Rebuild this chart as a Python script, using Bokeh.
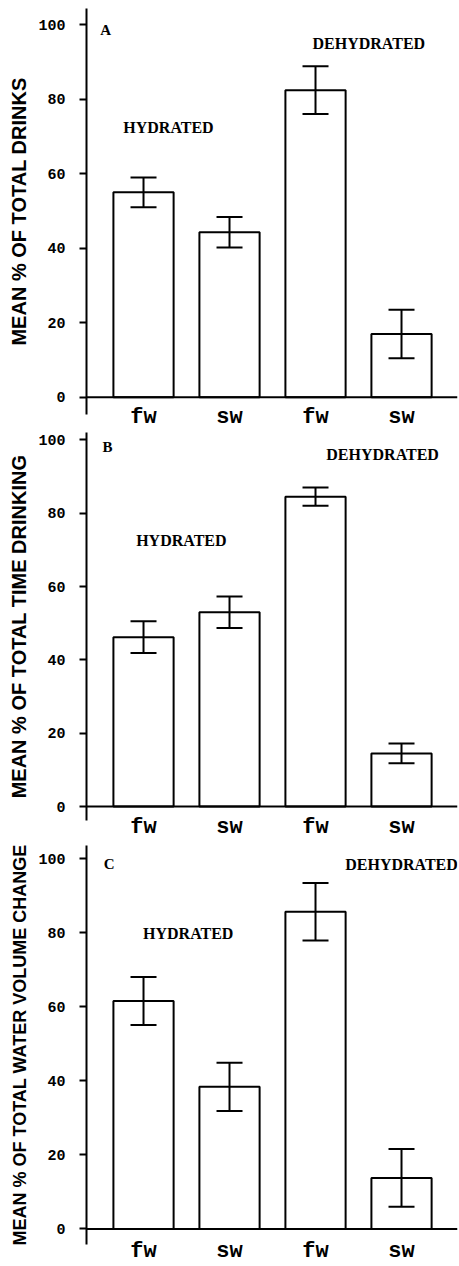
from bokeh.plotting import figure
from bokeh.layouts import column
from bokeh.models import ColumnDataSource, Whisker, TeeHead, Span, Label, FixedTicker, Range1d
from bokeh.embed import file_html
from bokeh.resources import INLINE

# ---- data ----
x_pos = [1, 2, 3, 4]
x_labels = ["fw", "sw", "fw", "sw"]
y_ticks = [0, 20, 40, 60, 80, 100]

drinks_mean = [55.0, 44.3, 82.4, 17.0]
drinks_err = [4.0, 4.1, 6.4, 6.5]

time_mean = [46.2, 53.0, 84.5, 14.5]
time_err = [4.3, 4.3, 2.5, 2.7]

volume_mean = [61.6, 38.4, 85.7, 13.8]
volume_err = [6.5, 6.5, 7.8, 7.8]

panels = [
    dict(letter="A", ylabel="MEAN % OF TOTAL DRINKS", mean=drinks_mean, err=drinks_err,
         height=432, top=8, bottom=18, yr=(-4.6, 104.3), standoff=-10, lab_size="20px",
         letter_pos=(0.56, 98.4), hyd_pos=(1.29, 72.4), dehyd_pos=(3.62, 95.0)),
    dict(letter="B", ylabel="MEAN % OF TOTAL TIME DRINKING", mean=time_mean, err=time_err,
         height=410, top=0, bottom=22, yr=(-3.8, 102.0), standoff=-6, lab_size="20px",
         letter_pos=(0.58, 98.0), hyd_pos=(1.44, 72.5), dehyd_pos=(3.78, 96.0)),
    dict(letter="C", ylabel="MEAN % OF TOTAL WATER VOLUME CHANGE", mean=volume_mean, err=volume_err,
         height=424, top=3, bottom=22, yr=(-4.2, 103.6), standoff=-6, lab_size="18px",
         letter_pos=(0.6, 98.7), hyd_pos=(1.52, 79.8), dehyd_pos=(4.0, 98.5)),
]

figs = []
for pn in panels:
    p = figure(width=459, height=pn["height"], output_backend="svg", toolbar_location=None,
               x_range=Range1d(0.337, 4.651), y_range=Range1d(*pn["yr"]),
               min_border_left=86, min_border_right=2,
               min_border_top=pn["top"], min_border_bottom=pn["bottom"])
    p.outline_line_color = None
    p.grid.visible = False
    p.background_fill_color = "white"
    p.border_fill_color = "white"

    src = ColumnDataSource(dict(
        x=x_pos, top=pn["mean"],
        upper=[m + e for m, e in zip(pn["mean"], pn["err"])],
        lower=[m - e for m, e in zip(pn["mean"], pn["err"])],
    ))
    p.vbar(x="x", top="top", bottom=0, width=0.70, source=src,
           fill_color="white", line_color="black", line_width=2)
    w = Whisker(source=src, base="x", upper="upper", lower="lower",
                line_color="black", line_width=2, level="overlay",
                upper_head=TeeHead(size=26, line_color="black", line_width=2),
                lower_head=TeeHead(size=26, line_color="black", line_width=2))
    p.add_layout(w)
    p.add_layout(Span(location=0, dimension="width", line_color="black", line_width=2))

    # y axis
    ya = p.yaxis[0]
    ya.ticker = FixedTicker(ticks=y_ticks)
    ya.minor_tick_line_color = None
    ya.major_tick_in = 0
    ya.major_tick_out = 7
    ya.major_tick_line_width = 2
    ya.axis_line_width = 2
    ya.major_label_standoff = 14
    ya.major_label_text_font = "Liberation Mono"
    ya.major_label_text_font_style = "bold"
    ya.major_label_text_font_size = "15px"
    ya.major_label_text_color = "black"
    ya.axis_label = pn["ylabel"]
    ya.axis_label_text_font = "Liberation Sans"
    ya.axis_label_text_font_style = "bold"
    ya.axis_label_text_font_size = pn["lab_size"]
    ya.axis_label_text_color = "black"
    ya.axis_label_standoff = 5

    # x axis
    xa = p.xaxis[0]
    xa.ticker = FixedTicker(ticks=x_pos)
    xa.major_label_overrides = {xv: lab for xv, lab in zip(x_pos, x_labels)}
    xa.axis_line_color = None
    xa.major_tick_line_color = None
    xa.minor_tick_line_color = None
    xa.major_tick_out = 0
    xa.major_tick_in = 0
    xa.major_label_standoff = pn["standoff"]
    xa.major_label_text_font = "Liberation Mono"
    xa.major_label_text_font_style = "bold"
    xa.major_label_text_font_size = "22px"
    xa.major_label_text_color = "black"

    lx, ly = pn["letter_pos"]
    p.add_layout(Label(x=lx, y=ly, text=pn["letter"], text_align="center", text_baseline="middle",
                       text_color="black",
                       text_font="Liberation Serif", text_font_style="bold", text_font_size="15px"))
    hx, hy = pn["hyd_pos"]
    p.add_layout(Label(x=hx, y=hy, text="HYDRATED", text_align="center", text_baseline="middle",
                       text_color="black",
                       text_font="Liberation Serif", text_font_style="bold", text_font_size="16px"))
    dx, dy = pn["dehyd_pos"]
    p.add_layout(Label(x=dx, y=dy, text="DEHYDRATED", text_align="center", text_baseline="middle",
                       text_color="black",
                       text_font="Liberation Serif", text_font_style="bold", text_font_size="16px"))
    figs.append(p)

layout = column(*figs, spacing=0)
open("out.html", "w").write(file_html(layout, INLINE))
